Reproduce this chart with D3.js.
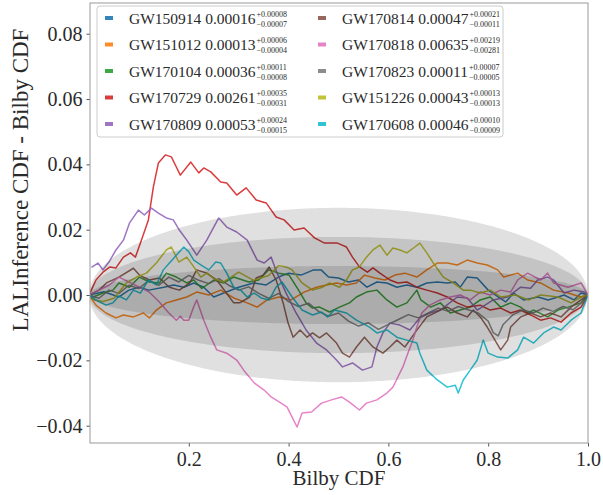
<!DOCTYPE html>
<html>
<head>
<meta charset="utf-8">
<script src="https://cdnjs.cloudflare.com/ajax/libs/d3/7.8.5/d3.min.js"></script>
<style>
  body { margin: 0; background: #fff; }
  text { font-family: "Liberation Serif", "DejaVu Serif", serif; fill: #2a2a2a; }
</style>
</head>
<body>
<svg id="chart" width="603" height="495"></svg>
<script>
// --- data ---
var eventNames = ["GW150914","GW151012","GW170104","GW170729","GW170809",
                  "GW170814","GW170818","GW170823","GW151226","GW170608"];
var medians = ["0.00016","0.00013","0.00036","0.00261","0.00053",
               "0.00047","0.00635","0.00011","0.00043","0.00046"];
var plusErr = ["0.00008","0.00006","0.00011","0.00035","0.00024",
               "0.00021","0.00219","0.00007","0.00013","0.00010"];
var minusErr = ["0.00007","0.00004","0.00008","0.00031","0.00015",
                "0.00011","0.00281","0.00005","0.00013","0.00009"];
var colors = ["#1f77b4","#ff7f0e","#2ca02c","#d62728","#9467bd",
              "#8c564b","#e377c2","#7f7f7f","#bcbd22","#17becf"];

var gw150914 = [[0,0],[0.03,0.001],[0.06,-0.0006],[0.08,0.0015],[0.10,0.0024],[0.12,0.0015],[0.15,0.0024],
  [0.17,0.0031],[0.19,0.0024],[0.21,0.0037],[0.23,0.0024],[0.25,-0.0006],[0.27,0.0006],[0.30,0.0024],
  [0.33,0.0037],[0.355,0.0031],[0.38,0.0055],[0.40,0.0067],[0.425,0.0061],[0.45,0.0077],[0.465,0.0077],
  [0.48,0.0055],[0.50,0.0052],[0.52,0.004],[0.54,0.0046],[0.557,0.0024],[0.577,0.004],[0.597,0.0037],
  [0.617,0.0024],[0.637,0.0031],[0.657,0.0024],[0.677,0.0037],[0.698,0.004],[0.718,0.0037],[0.734,0.004],
  [0.744,0.0024],[0.758,0.0055],[0.778,0.0052],[0.80,0.0015],[0.82,-0.0006],[0.835,-0.0021],[0.851,0.0006],
  [0.871,-0.0015],[0.90,-0.0006],[0.92,-0.0015],[0.94,-0.0006],[0.952,0],[0.972,-0.0015],[0.986,0.0006],[1,0]];

var gw151012 = [[0,0],[0.014,-0.0031],[0.034,-0.0055],[0.054,-0.007],[0.069,-0.0061],[0.089,-0.0067],
  [0.109,-0.0055],[0.121,-0.007],[0.135,-0.0046],[0.155,-0.0024],[0.175,-0.0015],[0.196,-0.0006],
  [0.216,0.0009],[0.24,0],[0.264,0.0015],[0.29,-0.0009],[0.317,-0.0024],[0.337,-0.0037],[0.357,-0.0015],
  [0.381,-0.0006],[0.405,-0.0015],[0.431,0.0009],[0.456,0.0024],[0.476,0.0031],[0.496,0.0037],[0.516,0.0031],
  [0.536,0.0037],[0.552,0.0061],[0.573,0.0052],[0.593,0.0046],[0.613,0.0061],[0.633,0.0067],[0.657,0.0055],
  [0.677,0.0077],[0.698,0.0098],[0.718,0.0098],[0.738,0.0092],[0.758,0.0107],[0.778,0.0098],[0.798,0.0092],
  [0.819,0.0077],[0.831,0.0055],[0.859,0.0067],[0.879,0.0046],[0.905,0.0037],[0.931,0.0015],[0.96,0.0006],
  [0.986,-0.0006],[1,0]];

var gw170104 = [[0,0],[0.008,-0.0006],[0.028,0.0006],[0.048,0.0015],[0.06,0.0037],[0.081,0.0024],[0.101,0.0055],
  [0.121,0.004],[0.141,0.0037],[0.155,0.0067],[0.175,0.0055],[0.196,0.0037],[0.21,0.0046],[0.226,0.002],
  [0.25,0.0046],[0.27,0.0037],[0.29,0.0055],[0.32,0.004],[0.34,0.0046],[0.36,0.0077],[0.38,0.0067],
  [0.401,0.0061],[0.42,0.0015],[0.435,-0.0024],[0.448,-0.004],[0.462,-0.0037],[0.482,-0.0052],[0.502,-0.0037],
  [0.522,-0.0024],[0.536,-0.0006],[0.556,0.0009],[0.577,0.0015],[0.597,-0.0015],[0.617,-0.0037],[0.637,-0.0024],
  [0.657,0.0015],[0.665,-0.0015],[0.685,-0.0037],[0.704,-0.0024],[0.724,-0.0055],[0.744,-0.0046],[0.764,-0.0037],
  [0.784,-0.0015],[0.804,-0.0006],[0.825,-0.0037],[0.845,-0.0024],[0.865,-0.0037],[0.879,-0.0055],[0.891,-0.0046],
  [0.919,-0.0067],[0.94,-0.0046],[0.96,-0.0037],[0.986,-0.0024],[1,0]];

var gw170729 = [[0,0],[0.014,0.0046],[0.028,0.007],[0.042,0.0086],[0.054,0.0083],[0.069,0.0116],[0.083,0.0129],
  [0.093,0.0116],[0.105,0.0168],[0.119,0.023],[0.129,0.0331],[0.139,0.0404],[0.153,0.0429],[0.165,0.0423],
  [0.175,0.0392],[0.183,0.0367],[0.204,0.0407],[0.22,0.0374],[0.23,0.0389],[0.244,0.0377],[0.264,0.0346],
  [0.276,0.0343],[0.296,0.0306],[0.315,0.0328],[0.335,0.0291],[0.355,0.0282],[0.375,0.0239],[0.391,0.023],
  [0.411,0.0199],[0.431,0.0205],[0.452,0.0175],[0.472,0.0159],[0.498,0.0159],[0.516,0.0147],[0.528,0.0116],
  [0.542,0.0086],[0.558,0.007],[0.569,0.0083],[0.583,0.0067],[0.603,0.0046],[0.619,0.0037],[0.637,0.004],
  [0.657,0.0024],[0.677,0.0015],[0.698,0.0006],[0.718,-0.0006],[0.738,-0.0024],[0.758,-0.0037],[0.784,-0.0031],
  [0.804,-0.0046],[0.825,-0.004],[0.845,-0.0055],[0.865,-0.0046],[0.885,-0.0061],[0.905,-0.0077],[0.925,-0.007],
  [0.946,-0.0083],[0.966,-0.0055],[0.986,-0.0037],[1,0]];

var gw170809 = [[0.005,0.0085],[0.018,0.0098],[0.028,0.0077],[0.04,0.0101],[0.054,0.0138],[0.069,0.0168],
  [0.081,0.022],[0.099,0.026],[0.111,0.0245],[0.125,0.0266],[0.139,0.0251],[0.155,0.0236],[0.169,0.023],
  [0.181,0.0199],[0.196,0.0168],[0.216,0.0122],[0.236,0.0168],[0.26,0.0236],[0.276,0.0208],[0.296,0.0193],
  [0.317,0.0168],[0.337,0.0107],[0.351,0.0098],[0.365,0.0116],[0.377,0.0067],[0.395,0.0006],[0.415,-0.0055],
  [0.435,-0.0107],[0.456,-0.0147],[0.476,-0.0168],[0.496,-0.0199],[0.508,-0.022],[0.528,-0.0208],[0.548,-0.023],
  [0.567,-0.022],[0.577,-0.0159],[0.589,-0.0116],[0.603,-0.0086],[0.623,-0.0092],[0.643,-0.0107],[0.663,-0.007],
  [0.683,-0.0055],[0.704,-0.0046],[0.738,-0.0006],[0.758,-0.0009],[0.778,-0.0046],[0.81,-0.0015],[0.839,-0.0006],
  [0.865,0.0024],[0.885,0.0021],[0.899,0.0046],[0.919,0.0055],[0.931,0.0046],[0.952,0.0006],[0.972,0.0015],
  [0.992,0.0009],[1,0]];

var gw170814 = [[0,0],[0.02,0.0015],[0.035,0.0037],[0.06,0.0055],[0.089,0.0082],[0.101,0.0061],[0.121,0.0046],
  [0.141,0.0052],[0.161,0.0024],[0.181,0.0015],[0.202,0.0037],[0.216,0.0077],[0.236,0.0067],[0.256,0.0046],
  [0.29,-0.0024],[0.302,-0.0024],[0.322,-0.0006],[0.335,0.0052],[0.349,0.0061],[0.361,0.0086],[0.375,0.0046],
  [0.389,-0.0024],[0.399,-0.0086],[0.409,-0.0129],[0.423,-0.0107],[0.437,-0.0129],[0.448,-0.0116],[0.462,-0.0131],
  [0.476,-0.0116],[0.496,-0.0147],[0.508,-0.0178],[0.522,-0.019],[0.536,-0.0159],[0.552,-0.0129],[0.569,-0.0159],
  [0.589,-0.0178],[0.603,-0.0159],[0.617,-0.0138],[0.633,-0.0159],[0.653,-0.0116],[0.677,-0.0067],[0.704,-0.0046],
  [0.718,-0.0037],[0.738,-0.0055],[0.758,-0.0067],[0.77,-0.0046],[0.784,-0.0067],[0.798,-0.0098],[0.81,-0.0129],
  [0.825,-0.0168],[0.839,-0.0138],[0.845,-0.0098],[0.865,-0.0067],[0.885,-0.0055],[0.905,-0.0067],[0.925,-0.0055],
  [0.946,-0.0067],[0.966,-0.0037],[0.986,-0.0015],[1,0]];

var gw170818 = [[0,0],[0.02,0.0015],[0.04,0.003],[0.06,0.0055],[0.08,0.004],[0.10,0.0025],[0.12,0.001],
  [0.14,-0.002],[0.16,-0.0055],[0.175,-0.0077],[0.183,-0.0065],[0.19,-0.0077],[0.20,-0.0077],[0.21,-0.0035],
  [0.216,-0.0015],[0.23,-0.0077],[0.244,-0.0129],[0.256,-0.0168],[0.276,-0.0178],[0.296,-0.0199],[0.31,-0.023],
  [0.331,-0.0269],[0.351,-0.0291],[0.365,-0.0312],[0.385,-0.0331],[0.397,-0.0343],[0.407,-0.0374],[0.417,-0.0404],
  [0.427,-0.0361],[0.446,-0.0358],[0.466,-0.0331],[0.486,-0.0321],[0.506,-0.0312],[0.522,-0.0328],[0.542,-0.0352],
  [0.556,-0.0331],[0.577,-0.0321],[0.597,-0.03],[0.609,-0.0282],[0.619,-0.0251],[0.629,-0.022],[0.639,-0.0178],
  [0.649,-0.0138],[0.657,-0.0098],[0.667,-0.0055],[0.683,-0.0031],[0.704,-0.0015],[0.724,-0.0006],[0.744,0],
  [0.764,-0.0015],[0.784,0.0009],[0.804,0],[0.825,0.0015],[0.845,0.0009],[0.859,0.0046],[0.879,0.0067],
  [0.905,0.0046],[0.919,0.0067],[0.931,0.0037],[0.96,0.0024],[0.986,0.0037],[1,0]];

var gw170823 = [[0,0],[0.02,-0.001],[0.04,0.0015],[0.06,0.0005],[0.08,0.003],[0.10,0.002],[0.12,0.0045],
  [0.14,0.003],[0.16,0.0055],[0.18,0.004],[0.20,0.006],[0.22,0.0045],[0.24,0.0035],[0.26,0.005],[0.28,0.003],
  [0.30,0.0015],[0.32,0.0025],[0.34,0.0005],[0.36,-0.001],[0.38,0.0005],[0.40,-0.002],[0.42,-0.0035],
  [0.44,-0.0025],[0.46,-0.005],[0.48,-0.0065],[0.50,-0.0055],[0.52,-0.008],[0.54,-0.0095],[0.56,-0.0085],
  [0.58,-0.0105],[0.60,-0.009],[0.62,-0.0075],[0.64,-0.006],[0.66,-0.007],[0.68,-0.0055],[0.70,-0.004],
  [0.72,-0.005],[0.74,-0.0035],[0.76,-0.0045],[0.78,-0.0055],[0.80,-0.008],[0.81,-0.0115],[0.82,-0.0125],
  [0.83,-0.009],[0.85,-0.006],[0.87,-0.0045],[0.89,-0.0055],[0.91,-0.004],[0.93,-0.005],[0.95,-0.0035],
  [0.97,-0.0045],[0.99,-0.002],[1,0]];

var gw151226 = [[0,0],[0.01,-0.0015],[0.028,-0.002],[0.05,-0.001],[0.075,0.0037],[0.095,0.0055],[0.115,0.0067],
  [0.135,0.0098],[0.155,0.0138],[0.165,0.0147],[0.18,0.0101],[0.196,0.0116],[0.21,0.0086],[0.224,0.0055],
  [0.236,0.0067],[0.25,0.005],[0.27,0.004],[0.30,0.007],[0.33,0.0045],[0.36,0.006],[0.38,0.009],[0.395,0.0086],
  [0.407,0.0077],[0.427,0.0037],[0.448,0.0015],[0.468,0.0024],[0.482,0.0037],[0.502,0.0024],[0.516,0.0046],
  [0.528,0.0077],[0.542,0.0086],[0.556,0.0116],[0.569,0.0138],[0.583,0.0153],[0.597,0.0122],[0.609,0.0144],
  [0.623,0.0138],[0.637,0.0129],[0.653,0.0147],[0.663,0.0159],[0.677,0.0129],[0.69,0.0098],[0.71,0.0055],
  [0.73,0.0037],[0.75,0.0015],[0.764,0.0015],[0.784,0.0006],[0.804,0.0015],[0.825,-0.0006],[0.855,0],
  [0.881,-0.0015],[0.905,0],[0.94,-0.0006],[0.966,-0.0024],[0.986,-0.0006],[1,0]];

var gw170608 = [[0,0],[0.014,-0.0015],[0.034,-0.0031],[0.048,-0.0024],[0.06,-0.0003],[0.075,-0.0015],
  [0.089,0.0015],[0.103,0.0006],[0.119,0.0046],[0.135,0.0031],[0.149,0.0077],[0.163,0.0101],[0.175,0.0122],
  [0.19,0.0147],[0.20,0.0132],[0.21,0.0107],[0.224,0.0092],[0.24,0.0077],[0.254,0.0101],[0.264,0.0098],
  [0.276,0.0067],[0.29,0.0024],[0.304,0.0015],[0.317,-0.0006],[0.331,0.0006],[0.345,-0.0009],[0.361,-0.0015],
  [0.375,0.0024],[0.387,0.004],[0.407,-0.0006],[0.427,-0.0046],[0.448,-0.0061],[0.466,-0.0052],[0.478,-0.0067],
  [0.492,-0.0046],[0.516,-0.0055],[0.536,-0.0077],[0.562,-0.0098],[0.577,-0.0116],[0.597,-0.0107],[0.617,-0.0129],
  [0.637,-0.0138],[0.657,-0.0147],[0.663,-0.0178],[0.677,-0.023],[0.698,-0.026],[0.718,-0.0282],[0.734,-0.0276],
  [0.74,-0.03],[0.75,-0.026],[0.764,-0.023],[0.778,-0.0199],[0.79,-0.0138],[0.80,-0.0178],[0.819,-0.019],
  [0.839,-0.0193],[0.859,-0.0168],[0.871,-0.0129],[0.891,-0.0147],[0.911,-0.0116],[0.931,-0.0098],
  [0.946,-0.0107],[0.966,-0.0077],[0.986,-0.0055],[1,0]];

var allSeries = [gw150914, gw151012, gw170104, gw170729, gw170809,
                 gw170814, gw170818, gw170823, gw151226, gw170608];

var xTicks = [0.2, 0.4, 0.6, 0.8, 1.0];
var yTicks = [-0.04, -0.02, 0.00, 0.02, 0.04, 0.06, 0.08];
var sigmaLevels = [3, 2, 1];     // confidence bands
var sigmaAtHalf = 0.0089;        // 1-sigma half width at CDF = 0.5

// --- layout ---
var svg = d3.select("#chart");
var plotL = 90, plotR = 588, plotT = 3, plotB = 443;

var x = d3.scaleLinear().domain([0.002, 1.0]).range([plotL, plotR]);
var y = d3.scaleLinear().domain([-0.0453, 0.0894]).range([plotB, plotT]);

svg.append("defs").append("clipPath").attr("id", "clip")
  .append("rect").attr("x", plotL).attr("y", plotT)
  .attr("width", plotR - plotL).attr("height", plotB - plotT);

var plot = svg.append("g").attr("clip-path", "url(#clip)");

var line = d3.line().x(function(d) { return x(d[0]); }).y(function(d) { return y(d[1]); });

allSeries.forEach(function(s, i) {
  plot.append("path")
    .attr("d", line(s))
    .attr("fill", "none")
    .attr("stroke", colors[i])
    .attr("stroke-width", 1.5)
    .attr("stroke-opacity", 0.9)
    .attr("stroke-linejoin", "round");
});

// bands sit on top of the lines, as in the original
var grid = d3.range(0, 1.0001, 0.004);
sigmaLevels.forEach(function(k) {
  var area = d3.area()
    .x(function(p) { return x(p); })
    .y0(function(p) { return y(-k * sigmaAtHalf * 2 * Math.sqrt(p * (1 - p))); })
    .y1(function(p) { return y(k * sigmaAtHalf * 2 * Math.sqrt(p * (1 - p))); });
  plot.append("path")
    .attr("d", area(grid))
    .attr("fill", "#000")
    .attr("fill-opacity", 0.12);
});

// axes
var yAxis = svg.append("g").attr("transform", "translate(" + plotL + ",0)")
  .call(d3.axisLeft(y).tickValues(yTicks).tickSize(3.5).tickPadding(4)
        .tickFormat(d3.format(".2f")));
var xAxis = svg.append("g").attr("transform", "translate(0," + plotB + ")")
  .call(d3.axisBottom(x).tickValues(xTicks).tickSize(3.5).tickPadding(5)
        .tickFormat(d3.format(".1f")));

[xAxis, yAxis].forEach(function(a) {
  a.select(".domain").remove();
  a.selectAll(".tick line").attr("stroke", "#555");
  a.selectAll(".tick text").attr("font-size", 20)
    .attr("font-family", "Liberation Serif, serif").attr("fill", "#2a2a2a");
});

svg.append("rect")
  .attr("x", plotL).attr("y", plotT)
  .attr("width", plotR - plotL).attr("height", plotB - plotT)
  .attr("fill", "none").attr("stroke", "#999").attr("stroke-width", 1);

svg.append("text")
  .attr("x", 339).attr("y", 485)
  .attr("text-anchor", "middle").attr("font-size", 21)
  .text("Bilby CDF");

svg.append("text")
  .attr("transform", "translate(28,180) rotate(-90)")
  .attr("text-anchor", "middle").attr("font-size", 23)
  .text("LALInference CDF - Bilby CDF");

// legend
var lg = svg.append("g").attr("transform", "translate(97,6)");
lg.append("rect")
  .attr("width", 406).attr("height", 131).attr("rx", 3)
  .attr("fill", "#fff").attr("fill-opacity", 0.8)
  .attr("stroke", "#ccc");

eventNames.forEach(function(name, i) {
  var col = Math.floor(i / 5), row = i % 5;
  var hx = col ? 221 : 8;
  var ry = 12 + row * 26.5;
  lg.append("line")
    .attr("x1", hx).attr("x2", hx + 8).attr("y1", ry).attr("y2", ry)
    .attr("stroke", colors[i]).attr("stroke-width", 4).attr("stroke-opacity", 0.9);
  var t = lg.append("text")
    .attr("x", hx + 24).attr("y", ry + 5.5)
    .attr("font-size", 15.5)
    .attr("fill", "#2a2a2a")
    .text(name + " " + medians[i]);
  var w = t.node().getComputedTextLength();
  lg.append("text")
    .attr("x", hx + 25 + w).attr("y", ry - 1.5)
    .attr("font-size", 8)
    .attr("fill", "#333")
    .text("+" + plusErr[i]);
  lg.append("text")
    .attr("x", hx + 25 + w).attr("y", ry + 8.5)
    .attr("font-size", 8)
    .attr("fill", "#333")
    .text("\u2212" + minusErr[i]);
});
</script>
</body>
</html>
